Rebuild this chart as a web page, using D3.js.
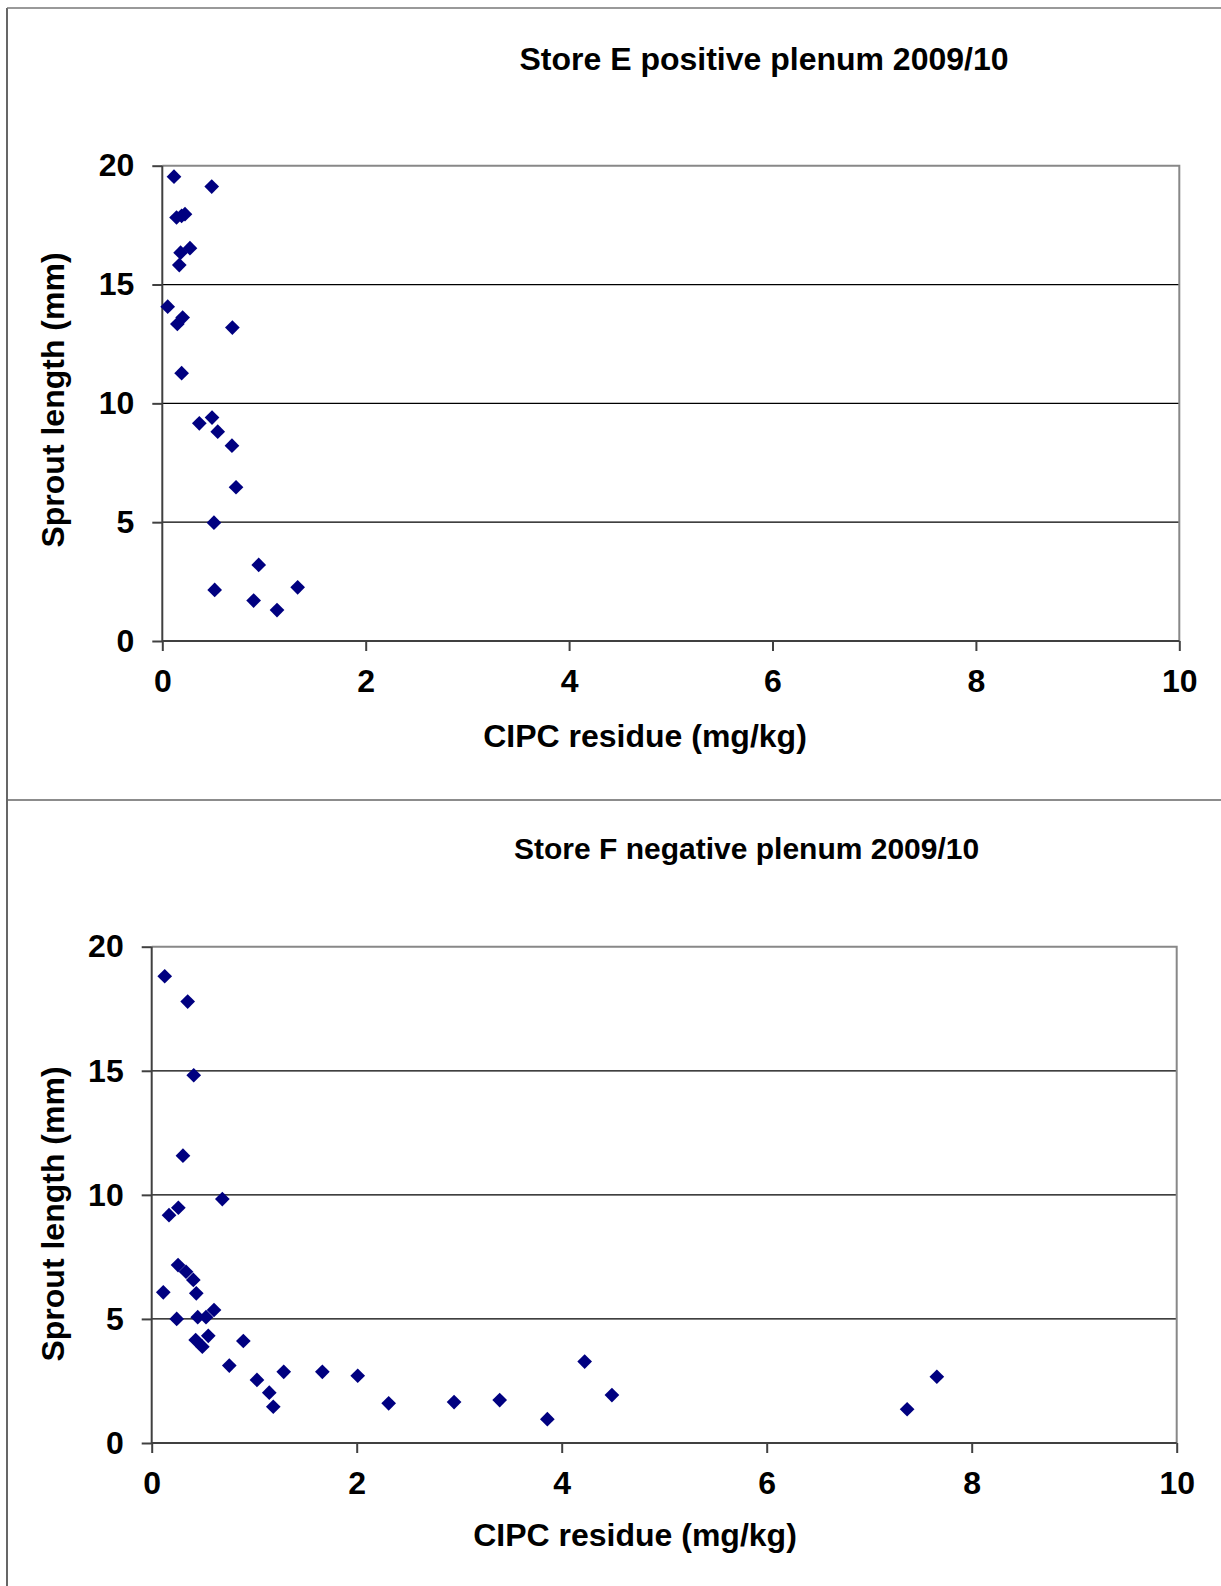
<!DOCTYPE html>
<html lang="en">
<head>
<meta charset="utf-8">
<title>Sprout length vs CIPC residue</title>
<script src="https://d3js.org/d3.v7.min.js"></script>
<style>
    body { margin: 0; background: #fff; }
    svg text { font-family: "Liberation Sans", Arial, sans-serif; font-weight: bold; fill: #000; }
    .axis path { display: none; }
    .axis line { stroke: #404040; stroke-width: 2; }
    .axis text { font-size: 32px; }
</style>
</head>
<body>
<div id="chart"></div>
<script>

// Store E, positive plenum 2009/10
const storeE_cipc   = [0.115, 0.486, 0.14, 0.19, 0.223, 0.18, 0.272, 0.167, 0.053, 0.148, 0.2, 0.689,
                       0.19, 0.364, 0.489, 0.545, 0.685, 0.725, 0.508, 0.948, 0.515, 0.898, 1.128, 1.331];
const storeE_sprout = [19.54, 19.12, 17.82, 17.89, 17.96, 16.34, 16.53, 15.82, 14.07, 13.34, 13.61, 13.19,
                       11.27, 9.16, 9.40, 8.81, 8.22, 6.47, 4.98, 3.20, 2.15, 1.70, 1.30, 2.26];

// Store F, negative plenum 2009/10
const storeF_cipc   = [0.127, 0.351, 0.41, 0.305, 0.689, 0.169, 0.26,
                       0.113, 0.244, 0.257, 0.335, 0.406, 0.435, 0.449, 0.53, 0.608, 0.429, 0.494, 0.552,
                       0.894, 0.757, 1.027, 1.147, 1.186, 1.288, 1.665, 2.01, 2.312,
                       2.95, 3.395, 3.86, 4.224, 4.49, 7.37, 7.66];
const storeF_sprout = [18.81, 17.79, 14.82, 11.58, 9.83, 9.18, 9.48,
                       6.07, 5.0, 7.17, 6.90, 6.57, 6.03, 5.07, 5.07, 5.36, 4.15, 3.88, 4.32,
                       4.11, 3.12, 2.54, 2.03, 1.46, 2.87, 2.87, 2.71, 1.60,
                       1.65, 1.73, 0.96, 3.28, 1.93, 1.36, 2.67];

const xTicks = [0, 2, 4, 6, 8, 10];
const yTicks = [0, 5, 10, 15, 20];
const xTitle = "CIPC residue (mg/kg)";
const yTitle = "Sprout length (mm)";

const W = 1221, H = 1586;

const svg = d3.select("#chart").append("svg")
    .attr("width", W)
    .attr("height", H);

// page frame lines
svg.append("line").attr("x1", 7).attr("x2", 7).attr("y1", 8).attr("y2", H)
    .attr("stroke", "#000").attr("stroke-width", 1.2);
svg.append("line").attr("x1", 7).attr("x2", W).attr("y1", 8).attr("y2", 8)
    .attr("stroke", "#777").attr("stroke-width", 1.6);
svg.append("line").attr("x1", 7).attr("x2", W).attr("y1", 800).attr("y2", 800)
    .attr("stroke", "#666").attr("stroke-width", 1.6);

function drawPanel(p){
    const x = d3.scaleLinear().domain([0, 10]).range([p.left, p.right]);
    const y = d3.scaleLinear().domain([0, 20]).range([p.bottom, p.top]);
    const g = svg.append("g");

    // gridlines
    g.selectAll(".grid").data(yTicks.filter(d => d > 0 && d < 20)).enter()
        .append("line")
        .attr("x1", x(0)).attr("x2", x(10))
        .attr("y1", d => y(d)).attr("y2", d => y(d))
        .attr("stroke", "#000").attr("stroke-width", 1.2);

    // plot area border (top + right)
    g.append("path")
        .attr("d", `M${x(0)},${y(20)}H${x(10)}V${y(0)}`)
        .attr("fill", "none").attr("stroke", "#888").attr("stroke-width", 2);

    g.append("g").attr("class", "axis")
        .attr("transform", `translate(${x(0)},0)`)
        .call(d3.axisLeft(y).tickValues(yTicks).tickSize(10).tickPadding(18));

    g.append("g").attr("class", "axis")
        .attr("transform", `translate(0,${y(0)})`)
        .call(d3.axisBottom(x).tickValues(xTicks).tickSize(10).tickPadding(18));

    // axis lines
    g.append("path")
        .attr("d", `M${x(0)},${y(20)}V${y(0)}H${x(10)}`)
        .attr("fill", "none").attr("stroke", "#404040").attr("stroke-width", 2);

    const pts = p.xs.map((v, i) => ({x: v, y: p.ys[i]}));
    g.selectAll(".pt").data(pts).enter()
        .append("path")
        .attr("d", d3.symbol(d3.symbolSquare, 108))
        .attr("transform", d => `translate(${x(d.x)},${y(d.y)}) rotate(45)`)
        .attr("fill", "#000080");

    g.append("text")
        .attr("x", p.titleX).attr("y", p.titleY)
        .attr("text-anchor", "middle")
        .attr("font-size", p.titleSize + "px")
        .text(p.title);

    g.append("text")
        .attr("x", p.xLabelX).attr("y", p.xLabelY)
        .attr("text-anchor", "middle")
        .attr("font-size", "32px")
        .text(xTitle);

    g.append("text")
        .attr("transform", `translate(64,${p.yLabelY}) rotate(-90)`)
        .attr("text-anchor", "middle")
        .attr("font-size", "32px")
        .text(yTitle);
}

drawPanel({
    title: "Store E positive plenum 2009/10", titleX: 764, titleY: 70, titleSize: 32,
    left: 162.3, right: 1179.3, top: 165.7, bottom: 641,
    xs: storeE_cipc, ys: storeE_sprout,
    xLabelX: 645, xLabelY: 747, yLabelY: 400
});

drawPanel({
    title: "Store F negative plenum 2009/10", titleX: 746.6, titleY: 859, titleSize: 30,
    left: 151.7, right: 1176.7, top: 946.7, bottom: 1443,
    xs: storeF_cipc, ys: storeF_sprout,
    xLabelX: 635, xLabelY: 1546, yLabelY: 1214
});

</script>
</body>
</html>
